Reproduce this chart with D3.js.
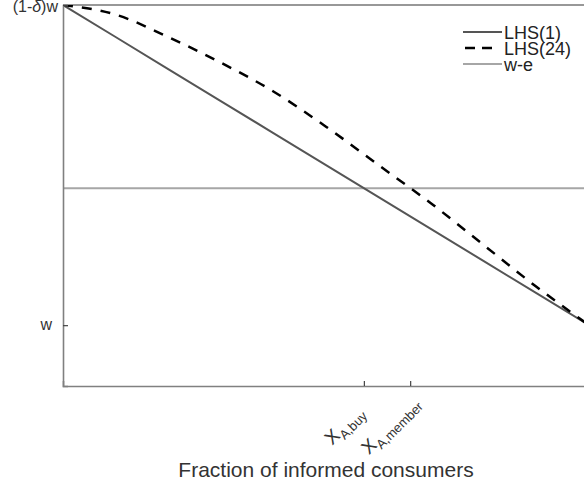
<!DOCTYPE html>
<html><head><meta charset="utf-8">
<script src="https://cdn.jsdelivr.net/npm/d3@7/dist/d3.min.js"></script>
<style>body{margin:0;background:#fff}svg{display:block;font-family:"Liberation Sans",Arial,sans-serif}</style>
</head><body><svg id="c" width="584" height="486"></svg>
<script>
// data
const xs = [0, 0.1, 0.2, 0.3, 0.4, 0.5, 0.6, 0.7, 0.8, 0.9, 1.0];
const lhs1 = [1, 0.9, 0.8, 0.7, 0.6, 0.5, 0.4, 0.3, 0.2, 0.1, 0.0];
const lhs24 = [1, 0.97, 0.90, 0.82, 0.73, 0.62, 0.50, 0.38, 0.25, 0.12, 0.0];
const wMinusE = [0.428, 0.428, 0.428, 0.428, 0.428, 0.428, 0.428, 0.428, 0.428, 0.428, 0.428];
const xTickValues = [0.572, 0.660];
const xTickMain = ["X", "X"];
const xTickSub = ["A,buy", "A,member"];
const yTickValues = [0, 1];
const seriesNames = ["LHS(1)", "LHS(24)", "w-e"];

const svg = d3.select("#c");
const L = 63, T = 5, R = 589, B = 386;
const x = d3.scaleLinear().domain([0, 1]).range([L, R]);
const y = d3.scaleLinear().domain([-0.19, 1]).range([B, T]);

svg.append("defs").append("clipPath").attr("id", "clip")
  .append("rect").attr("x", L).attr("y", T).attr("width", R - L).attr("height", B - T);

// top border
svg.append("line").attr("x1", L).attr("x2", R).attr("y1", T).attr("y2", T)
  .attr("stroke", "#333").attr("stroke-width", 1.2);

const g = svg.append("g").attr("clip-path", "url(#clip)");
const line = d3.line().x((d, i) => x(xs[i])).y(d => y(d));
const lineCurve = d3.line().x((d, i) => x(xs[i])).y(d => y(d)).curve(d3.curveMonotoneX);

g.append("path").datum(wMinusE).attr("d", line).attr("fill", "none")
  .attr("stroke", "#a6a6a6").attr("stroke-width", 2);
g.append("path").datum(lhs1).attr("d", line).attr("fill", "none")
  .attr("stroke", "#555").attr("stroke-width", 2);
g.append("path").datum(lhs24).attr("d", lineCurve).attr("fill", "none")
  .attr("stroke", "#000").attr("stroke-width", 2.5).attr("stroke-dasharray", "10,9");

// axes
const xAxis = d3.axisBottom(x).tickValues(xTickValues).tickSize(-5).tickFormat("");
const gx = svg.append("g").attr("transform", `translate(0,${B})`).call(xAxis);
gx.select(".domain").attr("stroke", "#808080").attr("stroke-width", 1.6);
gx.selectAll(".tick line").attr("stroke", "#444").attr("stroke-width", 1.2);

const yAxis = d3.axisLeft(y).tickValues(yTickValues).tickSize(-5).tickFormat("");
const gy = svg.append("g").attr("transform", `translate(${L},0)`).call(yAxis);
gy.select(".domain").attr("stroke", "#808080").attr("stroke-width", 1.6);
gy.selectAll(".tick line").attr("stroke", "#444").attr("stroke-width", 1.2);

// y tick labels
const ylab = svg.append("g").attr("font-size", 16).attr("fill", "#333");
ylab.append("text").attr("x", 52).attr("y", y(yTickValues[0]) + 5).attr("text-anchor", "end").text("w");
const topText = ylab.append("text").attr("x", 58).attr("y", y(yTickValues[1]) + 7).attr("text-anchor", "end");
topText.append("tspan").text("(1-");
topText.append("tspan").attr("font-style", "italic").text("δ");
topText.append("tspan").text(")w");

// x tick labels, rotated
xTickValues.forEach((v, i) => {
  const t = svg.append("text").attr("text-anchor", "middle").attr("fill", "#333")
    .attr("transform", `translate(${x(v) - 19},${426}) rotate(-45)`).attr("y", 5);
  t.append("tspan").attr("font-size", 19).text(xTickMain[i]);
  t.append("tspan").attr("font-size", 13).attr("dy", 5).text(xTickSub[i]);
});

// x title
svg.append("text").attr("x", 326).attr("y", 477).attr("text-anchor", "middle")
  .attr("font-size", 21).attr("fill", "#333").text("Fraction of informed consumers");

// legend
const leg = svg.append("g");
const legStyles = [
  {stroke: "#555", w: 2, dash: null, x1: 463, x2: 502},
  {stroke: "#000", w: 2.5, dash: "10,7", x1: 465, x2: 492},
  {stroke: "#a6a6a6", w: 2, dash: null, x1: 463, x2: 502}
];
seriesNames.forEach((n, i) => {
  const yy = 32 + i * 16;
  const s = legStyles[i];
  const l = leg.append("line").attr("x1", s.x1).attr("x2", s.x2).attr("y1", yy).attr("y2", yy)
    .attr("stroke", s.stroke).attr("stroke-width", s.w);
  if (s.dash) l.attr("stroke-dasharray", s.dash);
  leg.append("text").attr("x", 504).attr("y", yy + 6.5).attr("font-size", 18).attr("fill", "#222").text(n);
});
</script></body></html>
